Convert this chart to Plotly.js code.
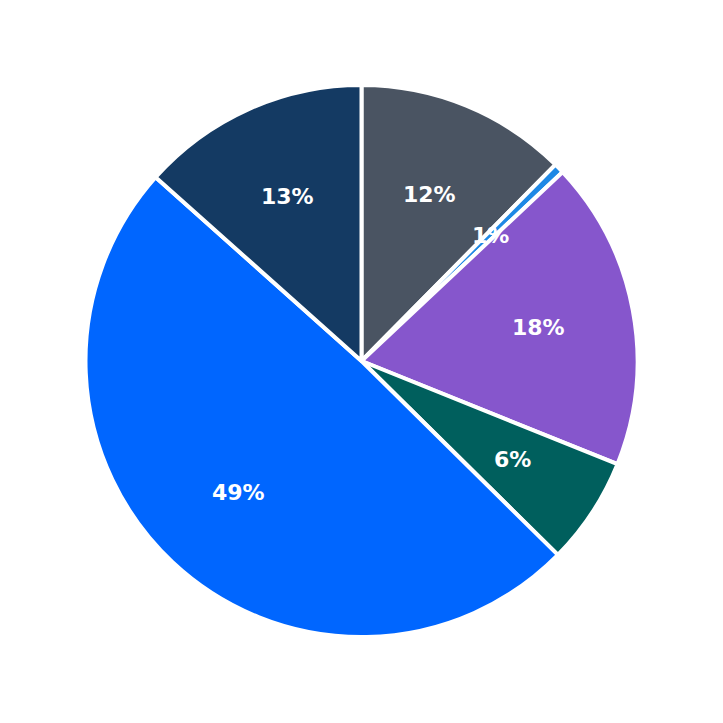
<!DOCTYPE html>
<html>
<head>
<meta charset="utf-8">
<script src="https://cdn.plot.ly/plotly-3.0.1.min.js"></script>
<style>html,body{margin:0;padding:0;background:#fff;}#chart{width:723px;height:723px;}</style>
</head>
<body>
<div id="chart"></div>
<script>
const categories = ["A", "B", "C", "D", "E", "F"];
const values = [12.4, 0.6, 18.1, 6.3, 49.2, 13.4];
const colors = ["#4a5462", "#1e88e5", "#8656cc", "#005f5d", "#0066ff", "#143a63"];

const total = values.reduce((a, b) => a + b, 0);
const labelRadius = 0.652;
const annotations = [];
let cum = 0;
values.forEach((v) => {
  const mid = (cum + v / 2) / total * 2 * Math.PI;
  cum += v;
  annotations.push({
    xref: 'paper', yref: 'paper',
    x: 0.5 + 0.5 * labelRadius * Math.sin(mid),
    y: 0.5 + 0.5 * labelRadius * Math.cos(mid),
    text: Math.round(v / total * 100) + '%',
    showarrow: false,
    xanchor: 'center', yanchor: 'middle',
    font: {family: 'DejaVu Sans', size: 22, color: '#ffffff', weight: 'bold'}
  });
});

Plotly.newPlot('chart', [{
  type: 'pie',
  labels: categories,
  values: values,
  sort: false,
  direction: 'clockwise',
  rotation: 0,
  textinfo: 'none',
  hoverinfo: 'none',
  marker: {colors: colors, line: {color: '#ffffff', width: 4}}
}], {
  width: 723, height: 723,
  margin: {l: 85, r: 85, t: 85, b: 86},
  showlegend: false,
  paper_bgcolor: '#ffffff',
  annotations: annotations
}, {displayModeBar: false, staticPlot: true});
</script>
</body>
</html>
